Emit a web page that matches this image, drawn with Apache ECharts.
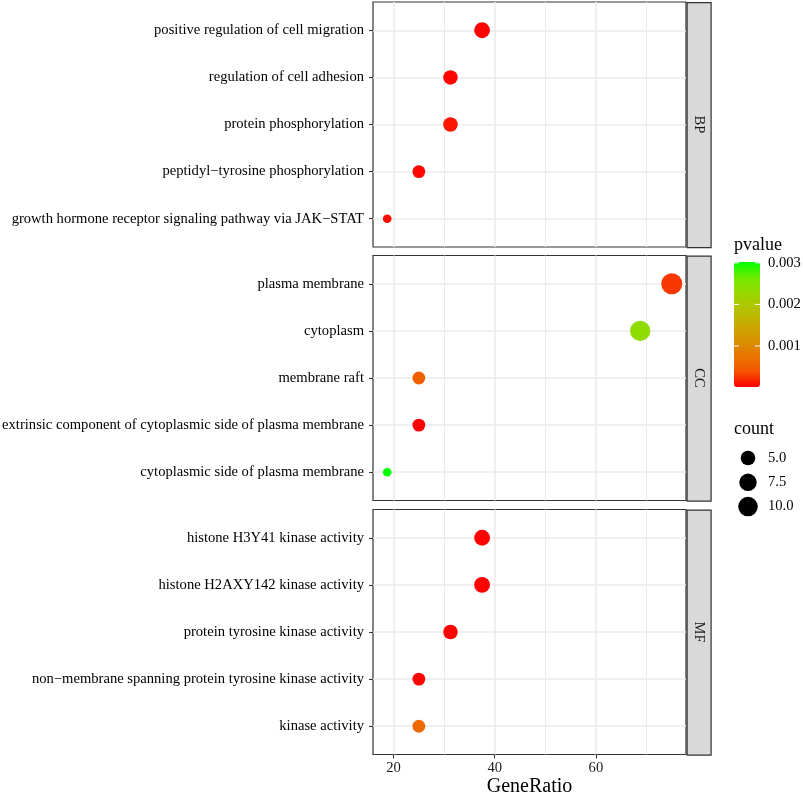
<!DOCTYPE html>
<html><head><meta charset="utf-8">
<script src="https://cdn.jsdelivr.net/npm/echarts@6/dist/echarts.min.js"></script>
<style>html,body{margin:0;padding:0;background:#fff}#c{width:803px;height:796px}</style>
</head><body><div id="c"></div>
<script>
// ---------------- data ----------------
const panels = ['BP', 'CC', 'MF'];

const termsBP = ['positive regulation of cell migration', 'regulation of cell adhesion', 'protein phosphorylation', 'peptidyl\u2212tyrosine phosphorylation', 'growth hormone receptor signaling pathway via JAK\u2212STAT'];
const ratioBP = [37.5, 31.25, 31.25, 25, 18.75];
const countBP = [6, 5, 5, 4, 3];
const pvalBP = [2.0e-5, 3.5e-5, 1.1e-4, 4.5e-5, 7.0e-5];

const termsCC = ['plasma membrane', 'cytoplasm', 'membrane raft', 'extrinsic component of cytoplasmic side of plasma membrane', 'cytoplasmic side of plasma membrane'];
const ratioCC = [75, 68.75, 25, 25, 18.75];
const countCC = [12, 11, 4, 4, 3];
const pvalCC = [2.6e-4, 2.36e-3, 5.2e-4, 1.2e-5, 3.02e-3];

const termsMF = ['histone H3Y41 kinase activity', 'histone H2AXY142 kinase activity', 'protein tyrosine kinase activity', 'non\u2212membrane spanning protein tyrosine kinase activity', 'kinase activity'];
const ratioMF = [37.5, 37.5, 31.25, 25, 25];
const countMF = [6, 6, 5, 4, 4];
const pvalMF = [1.5e-5, 1.5e-5, 2.5e-5, 3.0e-5, 6.2e-4];

const xMajorTicks = [20, 40, 60];
const xMinorTicks = [30, 50, 70];
const pvalueTicks = [0.001, 0.002, 0.003];
const pvalueTickLabels = ['0.001', '0.002', '0.003'];
const countLegend = [5.0, 7.5, 10.0];
const countLegendLabels = ['5.0', '7.5', '10.0'];

// ---------------- layout / style ----------------
const FONT = '"Liberation Serif", "Times New Roman", serif';
const GRID_LEFT = 373, GRID_W = 313, GRID_H = 245;
const GRID_TOPS = [2, 255.5, 509.5];
const STRIP_W = 24;
const CBAR = { left: 734, top: 262, w: 26, h: 125 };

const panelData = [
  { terms: termsBP, ratio: ratioBP, count: countBP, pval: pvalBP },
  { terms: termsCC, ratio: ratioCC, count: countCC, pval: pvalCC },
  { terms: termsMF, ratio: ratioMF, count: countMF, pval: pvalMF }
];

const allRatio = [].concat(ratioBP, ratioCC, ratioMF);
const allCount = [].concat(countBP, countCC, countMF);
const allP = [].concat(pvalBP, pvalCC, pvalMF);
const rMin = Math.min(...allRatio), rMax = Math.max(...allRatio);
const xMin = rMin - 0.05 * (rMax - rMin), xMax = rMax + 0.05 * (rMax - rMin);
const cMin = Math.min(...allCount), cMax = Math.max(...allCount);
const pMin = Math.min(...allP), pMax = Math.max(...allP);

function dotSize(c) {
  const s = 1 + 5 * Math.sqrt((c - cMin) / (cMax - cMin));
  return 2.46 * s + 6.24;
}

const colorStops = ['#ff0000', '#f45300', '#e87600', '#d99200', '#c8ab00', '#b3c200', '#98d700', '#70eb00', '#00ff00'];

const grids = GRID_TOPS.map(t => ({
  left: GRID_LEFT, top: t, width: GRID_W, height: GRID_H,
  show: true, borderColor: '#333333', borderWidth: 1.2, backgroundColor: '#ffffff',
  containLabel: false, outerBoundsMode: 'none'
}));

const rowIdx = [0, 1, 2, 3, 4];

const xAxes = panelData.map((p, i) => ({
  type: 'value', gridIndex: i, min: xMin, max: xMax, position: 'bottom',
  axisLine: { show: false, onZero: false },
  axisTick: { show: i === 2, customValues: xMajorTicks, length: 4, inside: false, lineStyle: { color: '#333333', width: 1.1 } },
  axisLabel: { show: i === 2, customValues: xMajorTicks, margin: 6, fontSize: 14.6, color: '#1a1a1a', fontFamily: FONT },
  splitLine: { show: true, lineStyle: { color: '#ebebeb', width: 1.6 } },
  name: i === 2 ? 'GeneRatio' : '',
  nameLocation: 'middle', nameGap: 22,
  nameTextStyle: { fontSize: 20, color: '#000', fontFamily: FONT }
}));

const yAxes = panelData.map((p, i) => ({
  type: 'value', gridIndex: i, min: -0.6, max: 4.6, inverse: true, position: 'left',
  axisLine: { show: false, onZero: false },
  axisTick: { show: true, customValues: rowIdx, length: 4, inside: false, lineStyle: { color: '#333333', width: 1.1 } },
  axisLabel: { show: true, customValues: rowIdx, margin: 9, fontSize: 14.6, color: '#000', fontFamily: FONT,
    formatter: v => p.terms[Math.round(v)] },
  splitLine: { show: true, lineStyle: { color: '#ebebeb', width: 1.6 } }
}));

const series = panelData.map((p, i) => ({
  type: 'scatter', xAxisIndex: i, yAxisIndex: i, z: 3,
  data: p.ratio.map((r, j) => [r, j, p.count[j], p.pval[j]]),
  symbol: 'circle',
  symbolSize: d => dotSize(d[2]),
  itemStyle: { opacity: 1 },
  emphasis: { disabled: true },
  markLine: {
    silent: true, symbol: 'none', z: 1, animation: false,
    label: { show: false },
    emphasis: { disabled: true },
    lineStyle: { color: '#ebebeb', width: 1.0, type: 'solid' },
    data: xMinorTicks.map(v => ({ xAxis: v }))
  }
}));

// ---------------- graphics (strips + legends) ----------------
const graphics = [];
GRID_TOPS.forEach((t, i) => {
  graphics.push({
    type: 'rect', left: GRID_LEFT + GRID_W + 0.5, top: t,
    shape: { x: 0, y: 0, width: STRIP_W, height: GRID_H },
    style: { fill: '#d9d9d9', stroke: '#333333', lineWidth: 1.2 }, silent: true
  });
  graphics.push({
    type: 'text', x: GRID_LEFT + GRID_W + 0.5 + STRIP_W / 2, y: t + GRID_H / 2,
    rotation: -Math.PI / 2,
    style: { text: panels[i], fill: '#1a1a1a', font: '14.6px ' + FONT, textAlign: 'center', textVerticalAlign: 'middle' },
    silent: true
  });
});

// pvalue legend
graphics.push({ type: 'text', x: CBAR.left, y: CBAR.top - 17,
  style: { text: 'pvalue', fill: '#000', font: '18px ' + FONT, textAlign: 'left', textVerticalAlign: 'middle' } });
pvalueTicks.forEach((v, k) => {
  const y = CBAR.top + (pMax - v) / (pMax - pMin) * CBAR.h;
  graphics.push({ type: 'line', shape: { x1: CBAR.left, y1: y, x2: CBAR.left + 5, y2: y }, style: { stroke: '#ffffff', lineWidth: 1 }, z: 100 });
  graphics.push({ type: 'line', shape: { x1: CBAR.left + CBAR.w - 5, y1: y, x2: CBAR.left + CBAR.w, y2: y }, style: { stroke: '#ffffff', lineWidth: 1 }, z: 100 });
  graphics.push({ type: 'text', x: CBAR.left + CBAR.w + 8, y: y,
    style: { text: pvalueTickLabels[k], fill: '#000', font: '14.6px ' + FONT, textAlign: 'left', textVerticalAlign: 'middle' } });
});

// count legend
graphics.push({ type: 'text', x: CBAR.left, y: 429,
  style: { text: 'count', fill: '#000', font: '18px ' + FONT, textAlign: 'left', textVerticalAlign: 'middle' } });
countLegend.forEach((c, k) => {
  const y = 458 + k * 24.3;
  graphics.push({ type: 'circle', shape: { cx: 748, cy: y, r: dotSize(c) / 2 }, style: { fill: '#000' } });
  graphics.push({ type: 'text', x: CBAR.left + CBAR.w + 8, y: y,
    style: { text: countLegendLabels[k], fill: '#000', font: '14.6px ' + FONT, textAlign: 'left', textVerticalAlign: 'middle' } });
});

const chart = echarts.init(document.getElementById('c'), null, { renderer: 'canvas' });
chart.setOption({
  animation: false,
  backgroundColor: '#ffffff',
  textStyle: { fontFamily: FONT },
  grid: grids,
  xAxis: xAxes,
  yAxis: yAxes,
  visualMap: [{
    type: 'continuous', seriesIndex: [0, 1, 2], dimension: 3,
    min: pMin, max: pMax, inRange: { color: colorStops },
    calculable: false, hoverLink: false, orient: 'vertical',
    left: CBAR.left, top: CBAR.top, itemWidth: CBAR.w, itemHeight: CBAR.h, padding: 0,
    text: null
  }],
  series: series,
  graphic: graphics
});
</script>
</body></html>
